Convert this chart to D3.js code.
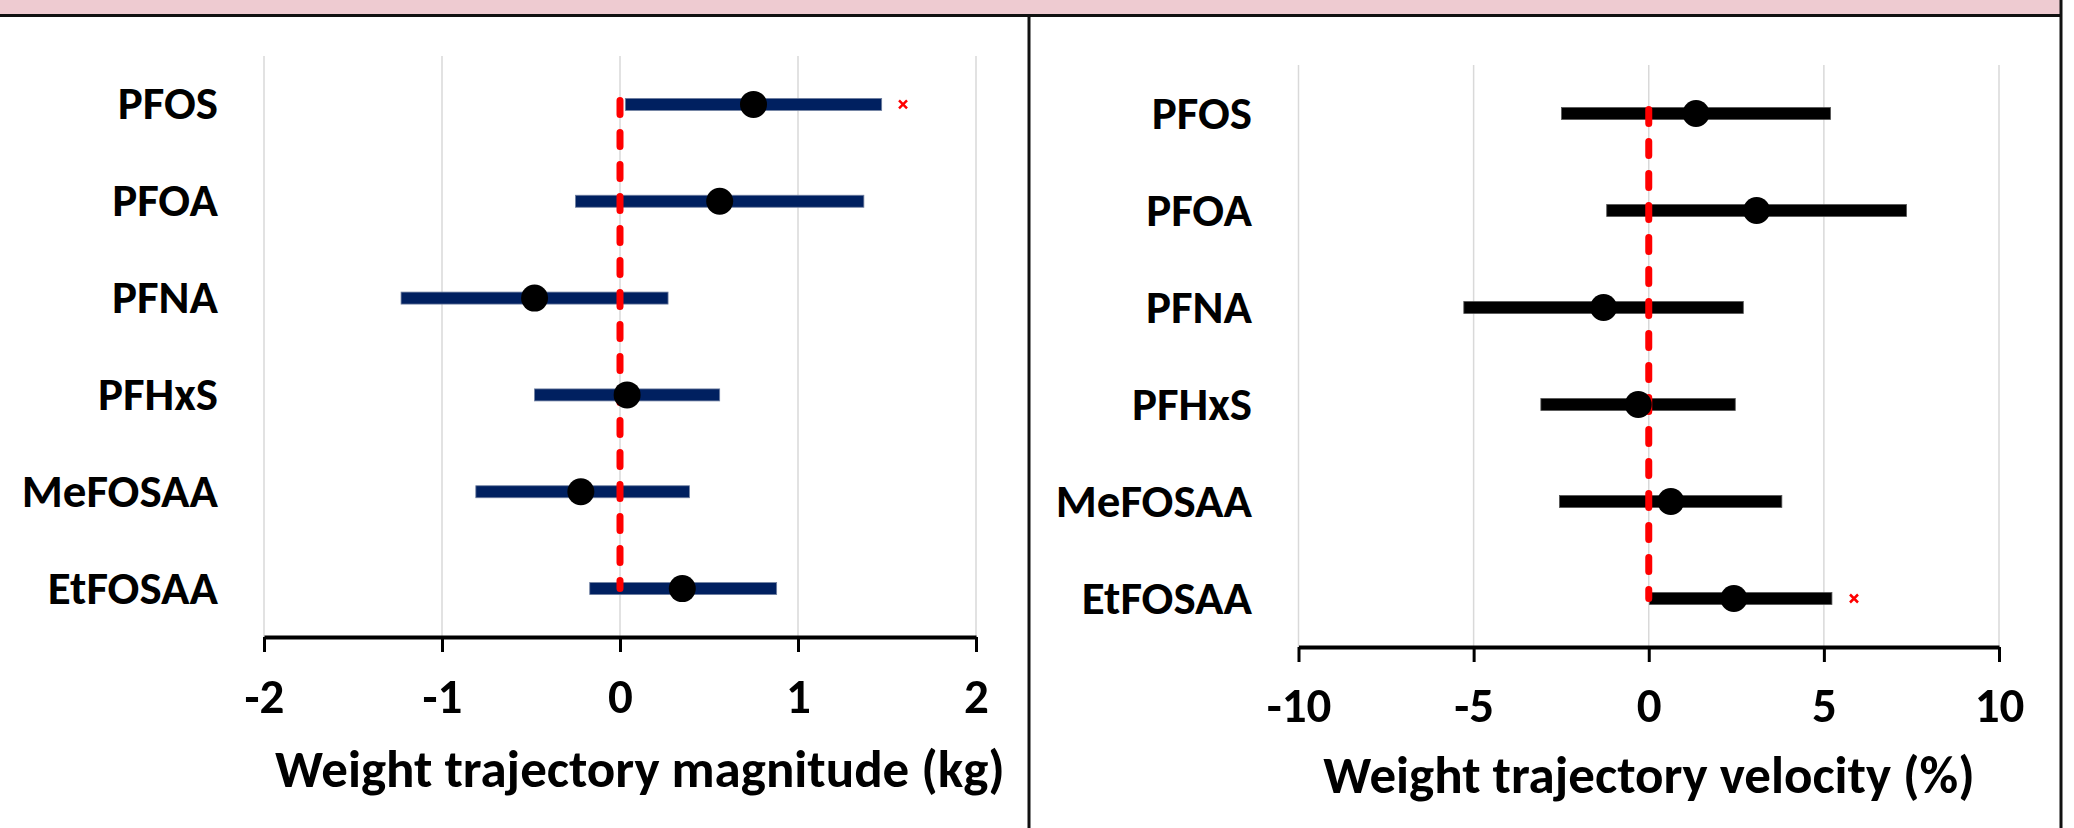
<!DOCTYPE html>
<html>
<head>
<meta charset="utf-8">
<script src="https://cdn.jsdelivr.net/npm/d3@7"></script>
<style>
  body { margin: 0; background: #fff; }
  text { font-family: Carlito, Calibri, 'Liberation Sans Narrow', 'Liberation Sans', sans-serif; font-weight: bold; }
</style>
</head>
<body>
<svg id="chart" width="2074" height="828"></svg>
<script>
// PFAS categories (top to bottom)
const categories = ['PFOS', 'PFOA', 'PFNA', 'PFHxS', 'MeFOSAA', 'EtFOSAA'];

// weight trajectory magnitude (kg): estimate + 95% CI
const magEst = [0.75, 0.56, -0.48, 0.04, -0.22, 0.35];
const magLo  = [0.03, -0.25, -1.23, -0.48, -0.81, -0.17];
const magHi  = [1.47, 1.37, 0.27, 0.56, 0.39, 0.88];
const magSig = [1.59, null, null, null, null, null];
const magTicks = [-2, -1, 0, 1, 2];

// weight trajectory velocity (%): estimate + 95% CI
const velEst = [1.35, 3.08, -1.29, -0.30, 0.63, 2.43];
const velLo  = [-2.49, -1.20, -5.28, -3.08, -2.55, 0.02];
const velHi  = [5.19, 7.36, 2.70, 2.47, 3.80, 5.23];
const velSig = [null, null, null, null, null, 5.86];
const velTicks = [-10, -5, 0, 5, 10];

const svg = d3.select('#chart');

// frame: pink header strip and panel borders
svg.append('rect').attr('x', 0).attr('y', 0).attr('width', 2061).attr('height', 15).attr('fill', '#eecbd1');
svg.append('line').attr('x1', 0).attr('x2', 2062).attr('y1', 15.5).attr('y2', 15.5).attr('stroke', '#111').attr('stroke-width', 3);
svg.append('line').attr('x1', 1029).attr('x2', 1029).attr('y1', 15).attr('y2', 828).attr('stroke', '#111').attr('stroke-width', 3);
svg.append('line').attr('x1', 2061).attr('x2', 2061).attr('y1', 0).attr('y2', 828).attr('stroke', '#111').attr('stroke-width', 3);

const panels = [
  { est: magEst, lo: magLo, hi: magHi, sig: magSig, ticks: magTicks, domain: [-2, 2],
    xRange: [264, 976], yRange: [56, 637], labelX: 218, color: '#002060', edge: '#6f7fa0',
    tickY: 76, titleX: 640, titleY: 787, title: 'Weight trajectory magnitude (kg)' },
  { est: velEst, lo: velLo, hi: velHi, sig: velSig, ticks: velTicks, domain: [-10, 10],
    xRange: [1298.5, 1999], yRange: [65, 647], labelX: 1252, color: '#000000', edge: '#555',
    tickY: 75, titleX: 1649, titleY: 793, title: 'Weight trajectory velocity (%)' }
];

panels.forEach(p => {
  const x = d3.scaleLinear().domain(p.domain).range(p.xRange);
  const y = d3.scaleBand().domain(categories).range(p.yRange);
  const yc = c => y(c) + y.bandwidth() / 2;
  const rows = categories.map((c, i) => ({ c, est: p.est[i], lo: p.lo[i], hi: p.hi[i], sig: p.sig[i] }));
  const axisY = p.yRange[1];

  // vertical gridlines
  svg.append('g').selectAll('line').data(p.ticks).join('line')
    .attr('x1', d => x(d)).attr('x2', d => x(d))
    .attr('y1', p.yRange[0]).attr('y2', axisY)
    .attr('stroke', '#d9d9d9').attr('stroke-width', 1.5);

  // x axis
  const gx = svg.append('g')
    .attr('transform', `translate(0,${axisY})`)
    .call(d3.axisBottom(x).tickValues(p.ticks).tickFormat(d => String(d)).tickSize(15).tickSizeOuter(0));
  gx.select('.domain').attr('stroke', '#000').attr('stroke-width', 4);
  gx.selectAll('.tick line').attr('stroke', '#000').attr('stroke-width', 3);
  gx.selectAll('.tick text')
    .attr('dy', null).attr('y', p.tickY)
    .style('font-size', '49px').attr('fill', '#000');

  // category labels
  const gy = svg.append('g')
    .attr('transform', `translate(${p.labelX},0)`)
    .call(d3.axisLeft(y).tickSize(0).tickPadding(0));
  gy.select('.domain').remove();
  gy.selectAll('.tick text').style('font-size', '47px').attr('fill', '#000');

  // confidence interval bars
  svg.append('g').selectAll('rect').data(rows).join('rect')
    .attr('x', d => x(d.lo))
    .attr('y', d => yc(d.c) - 6)
    .attr('width', d => x(d.hi) - x(d.lo))
    .attr('height', 12)
    .attr('fill', p.color)
    .attr('stroke', p.edge).attr('stroke-width', 0.8);

  // null reference line
  svg.append('line')
    .attr('x1', x(0)).attr('x2', x(0))
    .attr('y1', yc(categories[0]) - 4).attr('y2', yc(categories[categories.length - 1]))
    .attr('stroke', '#ff0000').attr('stroke-width', 7)
    .attr('stroke-linecap', 'round')
    .attr('stroke-dasharray', '14,18');

  // point estimates
  svg.append('g').selectAll('circle').data(rows).join('circle')
    .attr('cx', d => x(d.est))
    .attr('cy', d => yc(d.c))
    .attr('r', 13.5)
    .attr('fill', '#000');

  // significance markers
  svg.append('g').selectAll('path').data(rows.filter(d => d.sig != null)).join('path')
    .attr('d', d => {
      const cx = x(d.sig), cy = yc(d.c), s = 4;
      return `M${cx - s},${cy - s}L${cx + s},${cy + s}M${cx - s},${cy + s}L${cx + s},${cy - s}`;
    })
    .attr('stroke', '#ff0000').attr('stroke-width', 2.5);

  // axis title
  svg.append('text')
    .attr('x', p.titleX).attr('y', p.titleY)
    .attr('text-anchor', 'middle')
    .style('font-size', '53px')
    .text(p.title);
});
</script>
</body>
</html>
